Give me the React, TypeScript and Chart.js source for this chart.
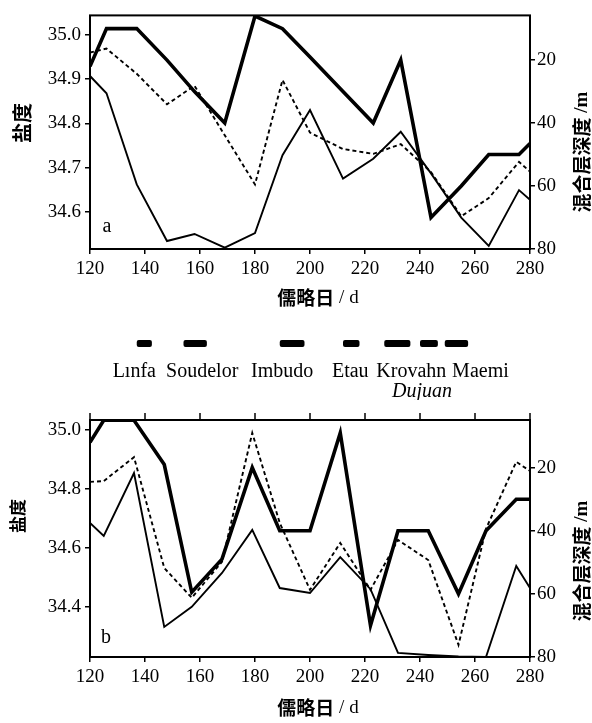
import React, { useEffect, useRef } from 'react';
import { Chart, registerables } from 'chart.js';

Chart.register(...registerables);

// ---------- data ----------
const xTickValues = [120, 140, 160, 180, 200, 220, 240, 260, 280];
const depthTickValues = [20, 40, 60, 80];
const salTicksA = [34.6, 34.7, 34.8, 34.9, 35.0];
const salTicksB = [34.4, 34.6, 34.8, 35.0];

// panel a
const daysA = [120, 126, 137, 148, 158, 169, 180, 190, 200, 212, 223, 233, 244, 255, 265, 276, 280];
const mldA = [22, 10, 10, 20, 30, 40, 6, 10, 19, 30, 40, 20, 70, 60, 50, 50, 46.5];
const salThinA = [34.907, 34.868, 34.662, 34.534, 34.55, 34.519, 34.552, 34.728, 34.83, 34.675, 34.72, 34.781, 34.687, 34.587, 34.523, 34.649, 34.627];
const salDashA = [34.96, 34.969, 34.912, 34.843, 34.885, 34.773, 34.662, 34.898, 34.779, 34.742, 34.731, 34.753, 34.69, 34.59, 34.631, 34.713, 34.691];

// panel b
const daysB = [120, 125, 136, 147, 157, 168, 179, 189, 200, 211, 222, 232, 243, 254, 264, 275, 280];
const mldB = [12, 5, 5, 19, 59.5, 49, 20, 40, 40, 9, 70, 40, 40, 60, 40, 30, 30];
const salThinB = [34.685, 34.641, 34.854, 34.332, 34.4, 34.515, 34.661, 34.464, 34.447, 34.569, 34.46, 34.244, 34.237, 34.232, 34.23, 34.539, 34.464];
const salDashB = [34.824, 34.827, 34.908, 34.532, 34.431, 34.553, 34.99, 34.685, 34.458, 34.617, 34.458, 34.627, 34.559, 34.271, 34.665, 34.892, 34.861];

// typhoon periods (Julian day)
const typhoonNames = ['Lınfa', 'Soudelor', 'Imbudo', 'Etau', 'Krovahn', 'Dujuan', 'Maemi'];
const typhoonStart = [137, 154, 189, 212, 227, 240, 249];
const typhoonEnd = [142.5, 162.5, 198, 218, 236.5, 246.5, 257.5];

// ---------- layout (pixels) ----------
const LABEL_DX = [-10, 7, -10, -1, 14, -7, 24];
const LABEL_ROW = [0, 0, 0, 0, 0, 1, 0];

const SERIF = "'Liberation Serif', 'Times New Roman', serif";
const CJK = "'Noto Sans CJK SC', sans-serif";

type Part = { text: string; font: string };

function drawParts(ctx: CanvasRenderingContext2D, parts: Part[], cx: number, cy: number, rot: number) {
  ctx.save();
  ctx.translate(cx, cy);
  ctx.rotate(rot);
  ctx.fillStyle = '#000';
  ctx.textBaseline = 'middle';
  ctx.textAlign = 'left';
  let total = 0;
  const widths = parts.map((p) => {
    ctx.font = p.font;
    const w = ctx.measureText(p.text).width;
    total += w;
    return w;
  });
  let x = -total / 2;
  parts.forEach((p, i) => {
    ctx.font = p.font;
    ctx.fillText(p.text, x, 0);
    x += widths[i];
  });
  ctx.restore();
}

type PanelOpts = {
  days: number[];
  mld: number[];
  thin: number[];
  dash: number[];
  salMin: number;
  salMax: number;
  salTicks: number[];
  depMin: number;
  padTop: number;
  padBottom: number;
  letter: string;
  letterPos: [number, number];
  leftTitle: [number, number, number];
  rightTitle: [number, number];
  xTitleY: number;
  topTicks: boolean;
  legend: boolean;
};

function makeConfig(o: PanelOpts): any {
  const pts = (ys: number[]) => o.days.map((d, i) => ({ x: d, y: ys[i] }));
  const tickFont = { family: SERIF, size: 19 };
  const decorPlugin = {
    id: 'decor' + o.letter,
    afterDatasetsDraw(chart: any) {
      const { ctx, chartArea } = chart;
      const xs = chart.scales.x;
      ctx.save();
      ctx.strokeStyle = '#000';
      ctx.lineWidth = 2;
      ctx.strokeRect(chartArea.left, chartArea.top, chartArea.right - chartArea.left, chartArea.bottom - chartArea.top);
      if (o.topTicks) {
        ctx.lineWidth = 1.5;
        xTickValues.forEach((v) => {
          const px = xs.getPixelForValue(v);
          ctx.beginPath();
          ctx.moveTo(px, chartArea.top);
          ctx.lineTo(px, chartArea.top - 7);
          ctx.stroke();
        });
      }
      ctx.restore();

      // panel letter
      ctx.save();
      ctx.fillStyle = '#000';
      ctx.font = `20px ${SERIF}`;
      ctx.textAlign = 'center';
      ctx.textBaseline = 'middle';
      ctx.fillText(o.letter, o.letterPos[0], o.letterPos[1]);
      ctx.restore();

      // axis titles
      drawParts(ctx, [{ text: '盐度', font: `bold ${o.leftTitle[2]}px ${CJK}` }], o.leftTitle[0], o.leftTitle[1], -Math.PI / 2);
      drawParts(
        ctx,
        [
          { text: '混合层深度', font: `bold 19px ${CJK}` },
          { text: ' /m', font: `bold 19px ${SERIF}` },
        ],
        o.rightTitle[0],
        o.rightTitle[1],
        -Math.PI / 2
      );
      drawParts(
        ctx,
        [
          { text: '儒略日', font: `bold 19px ${CJK}` },
          { text: ' / d', font: `19px ${SERIF}` },
        ],
        318,
        o.xTitleY,
        0
      );

      if (o.legend) {
        ctx.save();
        ctx.fillStyle = '#000';
        typhoonNames.forEach((name, i) => {
          const x0 = xs.getPixelForValue(typhoonStart[i]);
          const x1 = xs.getPixelForValue(typhoonEnd[i]);
          ctx.beginPath();
          const h = 7;
          const y0 = 340;
          ctx.moveTo(x0 + 2, y0);
          ctx.lineTo(x1 - 2, y0);
          ctx.quadraticCurveTo(x1, y0, x1, y0 + 2);
          ctx.lineTo(x1, y0 + h - 2);
          ctx.quadraticCurveTo(x1, y0 + h, x1 - 2, y0 + h);
          ctx.lineTo(x0 + 2, y0 + h);
          ctx.quadraticCurveTo(x0, y0 + h, x0, y0 + h - 2);
          ctx.lineTo(x0, y0 + 2);
          ctx.quadraticCurveTo(x0, y0, x0 + 2, y0);
          ctx.fill();
          const cx = (x0 + x1) / 2 + LABEL_DX[i];
          const italic = LABEL_ROW[i] === 1;
          ctx.font = `${italic ? 'italic ' : ''}20px ${SERIF}`;
          ctx.textAlign = 'center';
          ctx.textBaseline = 'middle';
          ctx.fillText(name, cx, italic ? 392 : 372);
        });
        ctx.restore();
      }
    },
  };

  return {
    type: 'line',
    data: {
      datasets: [
        {
          label: 'mld',
          data: pts(o.mld),
          yAxisID: 'y1',
          borderColor: '#000',
          borderWidth: 3.6,
          pointRadius: 0,
          tension: 0,
          borderJoinStyle: 'miter',
          fill: false,
        },
        {
          label: 'thin',
          data: pts(o.thin),
          yAxisID: 'y',
          borderColor: '#000',
          borderWidth: 1.9,
          pointRadius: 0,
          tension: 0,
          fill: false,
        },
        {
          label: 'dash',
          data: pts(o.dash),
          yAxisID: 'y',
          borderColor: '#000',
          borderWidth: 1.9,
          borderDash: [4, 3],
          pointRadius: 0,
          tension: 0,
          fill: false,
        },
      ],
    },
    options: {
      animation: false,
      responsive: false,
      devicePixelRatio: 1,
      layout: { padding: { top: o.padTop, bottom: o.padBottom, left: 0, right: 0 } },
      plugins: { legend: { display: false }, tooltip: { enabled: false } },
      scales: {
        x: {
          type: 'linear',
          position: 'bottom',
          min: 120,
          max: 280,
          afterBuildTicks: (s: any) => {
            s.ticks = xTickValues.map((v) => ({ value: v }));
          },
          afterFit: (s: any) => {
            s.height = 40;
          },
          grid: { drawOnChartArea: false, drawTicks: true, tickLength: 5, color: '#000', lineWidth: 1.5 },
          border: { display: false },
          ticks: { color: '#000', font: tickFont, padding: 4, autoSkip: false, maxRotation: 0 },
        },
        y: {
          type: 'linear',
          position: 'left',
          min: o.salMin,
          max: o.salMax,
          afterBuildTicks: (s: any) => {
            s.ticks = o.salTicks.map((v) => ({ value: v }));
          },
          afterFit: (s: any) => {
            s.width = 90;
          },
          grid: { drawOnChartArea: false, drawTicks: true, tickLength: 5, color: '#000', lineWidth: 1.5 },
          border: { display: false },
          ticks: {
            color: '#000',
            font: tickFont,
            padding: 4,
            autoSkip: false,
            callback: (v: any) => Number(v).toFixed(1),
          },
        },
        y1: {
          type: 'linear',
          position: 'right',
          reverse: true,
          min: o.depMin,
          max: 80,
          afterBuildTicks: (s: any) => {
            s.ticks = depthTickValues.map((v) => ({ value: v }));
          },
          afterFit: (s: any) => {
            s.width = 62;
          },
          grid: { drawOnChartArea: false, drawTicks: true, tickLength: 5, color: '#000', lineWidth: 1.5 },
          border: { display: false },
          ticks: {
            color: '#000',
            font: tickFont,
            padding: 2,
            autoSkip: false,
            callback: (v: any) => String(v),
          },
        },
      },
    },
    plugins: [decorPlugin],
  };
}

export default function App() {
  const refA = useRef<HTMLCanvasElement>(null);
  const refB = useRef<HTMLCanvasElement>(null);

  useEffect(() => {
    const a = new Chart(
      refA.current as HTMLCanvasElement,
      makeConfig({
        days: daysA,
        mld: mldA,
        thin: salThinA,
        dash: salDashA,
        salMin: 34.516,
        salMax: 35.044,
        salTicks: salTicksA,
        depMin: 5.8,
        padTop: 10,
        padBottom: 400 - 249 - 40,
        letter: 'a',
        letterPos: [107, 227],
        leftTitle: [22, 123, 20],
        rightTitle: [582, 152],
        xTitleY: 298,
        topTicks: false,
        legend: true,
      })
    );
    const b = new Chart(
      refB.current as HTMLCanvasElement,
      makeConfig({
        days: daysB,
        mld: mldB,
        thin: salThinB,
        dash: salDashB,
        salMin: 34.23,
        salMax: 35.034,
        salTicks: salTicksB,
        depMin: 4.9,
        padTop: 20,
        padBottom: 323 - 257 - 40,
        letter: 'b',
        letterPos: [106, 238],
        leftTitle: [18, 116, 17],
        rightTitle: [582, 161],
        xTitleY: 308,
        topTicks: true,
        legend: false,
      })
    );
    return () => {
      a.destroy();
      b.destroy();
    };
  }, []);

  return (
    <div style={{ position: 'fixed', left: 0, top: 0, width: 592, height: 723, background: '#fff' }}>
      <canvas ref={refA} width={592} height={400} style={{ position: 'absolute', left: 0, top: 0, width: 592, height: 400 }} />
      <canvas ref={refB} width={592} height={323} style={{ position: 'absolute', left: 0, top: 400, width: 592, height: 323 }} />
    </div>
  );
}
